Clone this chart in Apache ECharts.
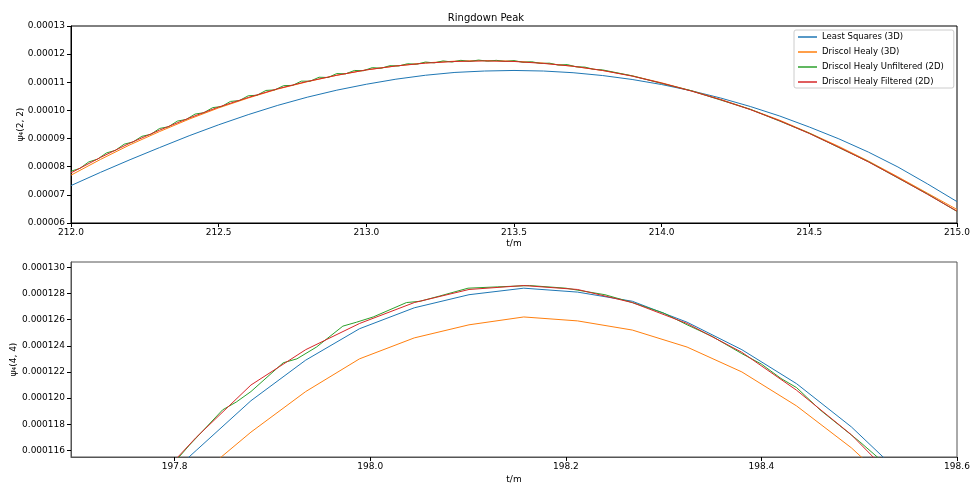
<!DOCTYPE html>
<html>
<head>
<meta charset="utf-8">
<title>Ringdown Peak</title>
<script src="https://cdn.jsdelivr.net/npm/echarts@6/dist/echarts.min.js"></script>
<style>
  html, body { margin: 0; padding: 0; background: #fff; }
  #chart { width: 972px; height: 487px; }
</style>
</head>
<body>
<div id="chart"></div>
<script>
// ---- data ----
const seriesNames = ['Least Squares (3D)', 'Driscol Healy (3D)', 'Driscol Healy Unfiltered (2D)', 'Driscol Healy Filtered (2D)'];
const seriesColors = ['#1f77b4', '#ff7f0e', '#2ca02c', '#d62728'];

// top panel: psi4 (2,2)
const tTop = [212.0, 212.1, 212.2, 212.3, 212.4, 212.5, 212.6, 212.7, 212.8, 212.9,
              213.0, 213.1, 213.2, 213.3, 213.4, 213.5, 213.6, 213.7, 213.8, 213.9,
              214.0, 214.1, 214.2, 214.3, 214.4, 214.5, 214.6, 214.7, 214.8, 214.9, 215.0];
const lsqTop = [73.3e-6, 78.0e-6, 82.5e-6, 86.8e-6, 91.0e-6, 94.9e-6, 98.5e-6, 101.8e-6, 104.7e-6, 107.2e-6,
                109.3e-6, 111.1e-6, 112.5e-6, 113.5e-6, 114.0e-6, 114.2e-6, 114.0e-6, 113.4e-6, 112.4e-6, 111.0e-6,
                109.2e-6, 107.0e-6, 104.4e-6, 101.4e-6, 98.0e-6, 94.1e-6, 89.9e-6, 85.2e-6, 79.9e-6, 73.9e-6, 67.6e-6];
const dh3Top = [77.0e-6, 82.6e-6, 87.8e-6, 92.5e-6, 96.9e-6, 100.9e-6, 104.4e-6, 107.6e-6, 110.2e-6, 112.5e-6,
                114.4e-6, 115.8e-6, 116.9e-6, 117.5e-6, 117.7e-6, 117.5e-6, 116.8e-6, 115.7e-6, 114.2e-6, 112.3e-6,
                109.8e-6, 107.0e-6, 103.9e-6, 100.4e-6, 96.5e-6, 92.0e-6, 87.2e-6, 82.0e-6, 76.4e-6, 70.6e-6, 64.8e-6];
const dh2fTop = [77.8e-6, 83.3e-6, 88.4e-6, 93.0e-6, 97.3e-6, 101.2e-6, 104.6e-6, 107.7e-6, 110.3e-6, 112.5e-6,
                 114.4e-6, 115.8e-6, 116.8e-6, 117.4e-6, 117.6e-6, 117.4e-6, 116.7e-6, 115.7e-6, 114.2e-6, 112.2e-6,
                 109.7e-6, 106.9e-6, 103.8e-6, 100.3e-6, 96.3e-6, 91.8e-6, 86.9e-6, 81.7e-6, 76.1e-6, 70.2e-6, 64.2e-6];
// unfiltered 2D is sampled finer and wobbles a little
const tGreenTop = [212.00, 212.03, 212.06, 212.09, 212.12, 212.15, 212.18, 212.21, 212.24, 212.27,
                   212.30, 212.33, 212.36, 212.39, 212.42, 212.45, 212.48, 212.51, 212.54, 212.57,
                   212.60, 212.63, 212.66, 212.69, 212.72, 212.75, 212.78, 212.81, 212.84, 212.87,
                   212.90, 212.93, 212.96, 212.99, 213.02, 213.05, 213.08, 213.11, 213.14, 213.17,
                   213.20, 213.23, 213.26, 213.29, 213.32, 213.35, 213.38, 213.41, 213.44, 213.47,
                   213.50, 213.53, 213.56, 213.59, 213.62, 213.65, 213.68, 213.71, 213.74, 213.77,
                   213.80, 213.9, 214.0, 214.1, 214.2, 214.3, 214.4, 214.5, 214.6, 214.7, 214.8, 214.9, 215.0];
const dh2uTop = [78.4e-6, 79.4e-6, 81.7e-6, 82.7e-6, 84.9e-6, 85.8e-6, 88.0e-6, 88.8e-6, 90.8e-6, 91.5e-6,
                 93.6e-6, 94.2e-6, 96.2e-6, 96.8e-6, 98.7e-6, 99.2e-6, 101.0e-6, 101.4e-6, 103.2e-6, 103.5e-6,
                 105.2e-6, 105.4e-6, 107.1e-6, 107.3e-6, 108.8e-6, 108.9e-6, 110.4e-6, 110.4e-6, 111.8e-6, 111.7e-6,
                 113.1e-6, 113.0e-6, 114.2e-6, 114.1e-6, 115.2e-6, 115.0e-6, 115.9e-6, 115.8e-6, 116.6e-6, 116.4e-6,
                 117.2e-6, 116.9e-6, 117.6e-6, 117.2e-6, 117.8e-6, 117.4e-6, 117.9e-6, 117.5e-6, 117.8e-6, 117.4e-6,
                 117.7e-6, 117.1e-6, 117.3e-6, 116.7e-6, 116.8e-6, 116.1e-6, 116.3e-6, 115.5e-6, 115.4e-6, 114.6e-6,
                 114.4e-6, 112.3e-6, 109.6e-6, 107.0e-6, 103.7e-6, 100.4e-6, 96.2e-6, 91.9e-6, 86.8e-6, 81.8e-6, 76.0e-6, 70.3e-6, 64.1e-6];

// bottom panel: psi4 (4,4)
const tBot = [197.766, 197.822, 197.878, 197.934, 197.989, 198.045, 198.101, 198.157,
              198.212, 198.268, 198.324, 198.380, 198.436, 198.492, 198.547, 198.603];
const lsqBot = [112.2e-6, 116.0e-6, 119.8e-6, 122.9e-6, 125.3e-6, 126.9e-6, 127.9e-6, 128.4e-6,
                128.1e-6, 127.4e-6, 125.8e-6, 123.7e-6, 121.1e-6, 117.8e-6, 113.9e-6, 109.4e-6];
const dh3Bot = [109.5e-6, 113.9e-6, 117.4e-6, 120.5e-6, 123.0e-6, 124.6e-6, 125.6e-6, 126.2e-6,
                125.9e-6, 125.2e-6, 123.9e-6, 122.0e-6, 119.4e-6, 116.2e-6, 112.4e-6, 108.0e-6];
const dh2fBot = [112.5e-6, 117.0e-6, 121.0e-6, 123.7e-6, 125.7e-6, 127.3e-6, 128.3e-6, 128.6e-6,
                 128.3e-6, 127.3e-6, 125.7e-6, 123.5e-6, 120.6e-6, 117.2e-6, 113.0e-6, 108.5e-6];
const tGreenBot = [197.760, 197.787, 197.815, 197.849, 197.863, 197.878, 197.911, 197.925, 197.945, 197.972,
                   197.986, 198.003, 198.037, 198.051, 198.071, 198.100, 198.130, 198.163, 198.200, 198.240,
                   198.268, 198.300, 198.324, 198.350, 198.380, 198.400, 198.420, 198.436, 198.460, 198.480,
                   198.500, 198.520, 198.547, 198.603];
const dh2uBot = [111.8e-6, 114.0e-6, 116.4e-6, 119.1e-6, 119.7e-6, 120.5e-6, 122.7e-6, 123.0e-6, 123.9e-6, 125.5e-6,
                 125.8e-6, 126.2e-6, 127.3e-6, 127.4e-6, 127.8e-6, 128.4e-6, 128.5e-6, 128.6e-6, 128.4e-6, 127.9e-6,
                 127.3e-6, 126.5e-6, 125.6e-6, 124.7e-6, 123.4e-6, 122.6e-6, 121.5e-6, 120.8e-6, 119.1e-6, 117.9e-6,
                 116.7e-6, 115.4e-6, 112.8e-6, 108.3e-6];

// tick positions
const xTicksTop = [212.0, 212.5, 213.0, 213.5, 214.0, 214.5, 215.0];
const yTicksTop = [60e-6, 70e-6, 80e-6, 90e-6, 100e-6, 110e-6, 120e-6, 130e-6];
const xTicksBot = [197.8, 198.0, 198.2, 198.4, 198.6];
const yTicksBot = [116e-6, 118e-6, 120e-6, 122e-6, 124e-6, 126e-6, 128e-6, 130e-6];

const pair = (xs, ys) => xs.map((x, i) => [x, ys[i]]);
const FONT = 'DejaVu Sans';

function xAxisCfg(gridIndex, min, max, ticks, color, gap) {
    return {
        type: 'value', gridIndex, min, max,
        name: 't/m', nameLocation: 'middle', nameGap: gap, nameMoveOverlap: false,
        nameTextStyle: { fontFamily: FONT, fontSize: 9, color: '#000' },
        axisLine: { show: true, lineStyle: { color, width: 1 } },
        axisTick: { show: true, length: 4, customValues: ticks, lineStyle: { color: '#000' } },
        axisLabel: { customValues: ticks, fontFamily: FONT, fontSize: 9, color: '#000', margin: 5,
                     formatter: v => v.toFixed(1) },
        splitLine: { show: false }
    };
}
function yAxisCfg(gridIndex, min, max, ticks, digits, label, gap, color) {
    return {
        type: 'value', gridIndex, min, max,
        name: label, nameLocation: 'middle', nameGap: gap, nameRotate: 90, nameMoveOverlap: false,
        nameTextStyle: { fontFamily: FONT, fontSize: 9, color: '#000' },
        axisLine: { show: true, lineStyle: { color, width: 1 } },
        axisTick: { show: true, length: 4, customValues: ticks, lineStyle: { color: '#000' } },
        axisLabel: { customValues: ticks, fontFamily: FONT, fontSize: 9, color: '#000', margin: 6,
                     formatter: v => v.toFixed(digits) },
        splitLine: { show: false }
    };
}

function line(name, idx, data, xi) {
    return {
        name, type: 'line', data, xAxisIndex: xi, yAxisIndex: xi,
        symbol: 'none', smooth: false, clip: true, animation: false,
        lineStyle: { color: seriesColors[idx], width: 1 },
        itemStyle: { color: seriesColors[idx] }
    };
}

const chart = echarts.init(document.getElementById('chart'), null, { renderer: 'canvas' });
chart.setOption({
    backgroundColor: '#fff',
    animation: false,
    title: {
        text: 'Ringdown Peak', left: 'center', top: 8,
        textStyle: { fontFamily: FONT, fontSize: 10, fontWeight: 'normal', color: '#000' }
    },
    legend: {
        data: seriesNames, orient: 'vertical', left: 794, top: 30,
        icon: 'rect', itemWidth: 19, itemHeight: 1.5, itemGap: 5, padding: [2, 10, 1, 4],
        textStyle: { fontFamily: FONT, fontSize: 8.5, color: '#000', lineHeight: 10 },
        borderColor: '#cccccc', borderWidth: 1, borderRadius: 2,
        backgroundColor: 'rgba(255,255,255,0.8)'
    },
    grid: [
        { left: 71, top: 26, width: 886, height: 197, outerBoundsMode: 'none', containLabel: false,
          show: true, borderColor: '#000', borderWidth: 1, backgroundColor: 'transparent' },
        { left: 71, top: 262, width: 886, height: 195, outerBoundsMode: 'none', containLabel: false,
          show: true, borderColor: '#555', borderWidth: 1, backgroundColor: 'transparent' }
    ],
    xAxis: [
        xAxisCfg(0, 212, 215, xTicksTop, '#000', 16),
        xAxisCfg(1, 197.694, 198.6, xTicksBot, '#555', 18)
    ],
    yAxis: [
        yAxisCfg(0, 60e-6, 130e-6, yTicksTop, 5, 'ψ₄(2, 2)', 46, '#000'),
        yAxisCfg(1, 115.5e-6, 130.4e-6, yTicksBot, 6, 'ψ₄(4, 4)', 53, '#555')
    ],
    series: [
        line(seriesNames[0], 0, pair(tTop, lsqTop), 0),
        line(seriesNames[1], 1, pair(tTop, dh3Top), 0),
        line(seriesNames[2], 2, pair(tGreenTop, dh2uTop), 0),
        line(seriesNames[3], 3, pair(tTop, dh2fTop), 0),
        line(seriesNames[0], 0, pair(tBot, lsqBot), 1),
        line(seriesNames[1], 1, pair(tBot, dh3Bot), 1),
        line(seriesNames[2], 2, pair(tGreenBot, dh2uBot), 1),
        line(seriesNames[3], 3, pair(tBot, dh2fBot), 1)
    ]
});
</script>
</body>
</html>
